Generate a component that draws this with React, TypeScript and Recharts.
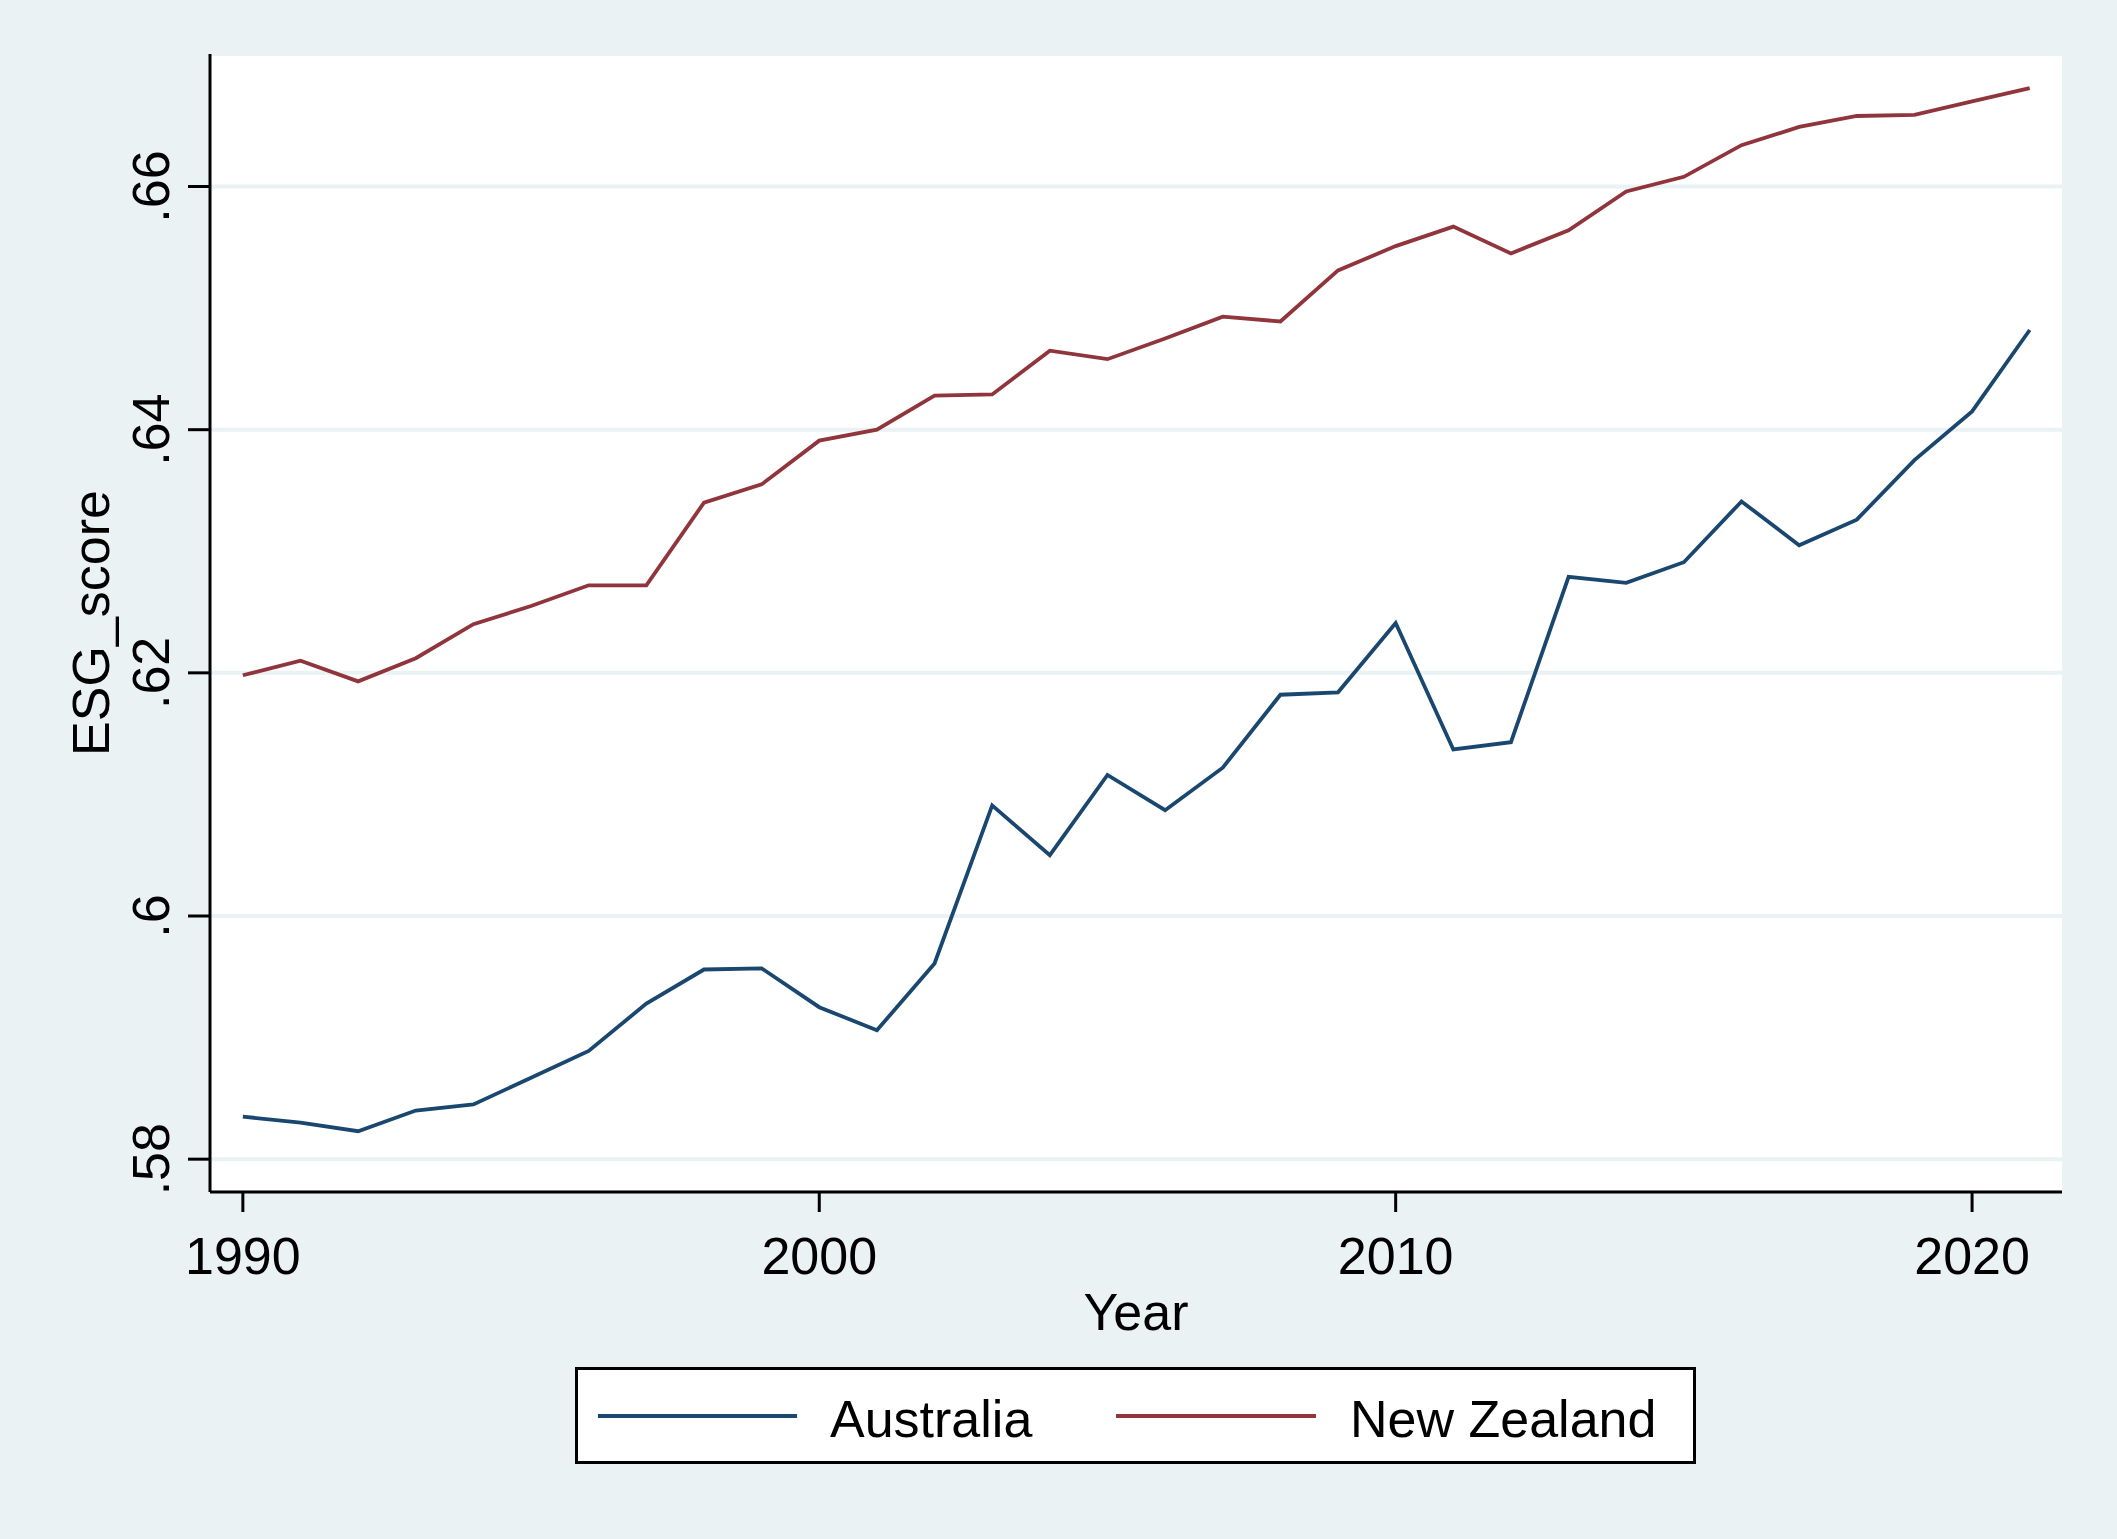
import React from 'react';
import { LineChart, Line, XAxis, YAxis, CartesianGrid, Legend } from 'recharts';

const years = [
  1990, 1991, 1992, 1993, 1994, 1995, 1996, 1997, 1998, 1999,
  2000, 2001, 2002, 2003, 2004, 2005, 2006, 2007, 2008, 2009,
  2010, 2011, 2012, 2013, 2014, 2015, 2016, 2017, 2018, 2019,
  2020, 2021,
];

const australia = [
  0.5835, 0.5830, 0.5823, 0.5840, 0.5845, 0.5867, 0.5889, 0.5928, 0.5956, 0.5957,
  0.5925, 0.5906, 0.5961, 0.6091, 0.6050, 0.6116, 0.6087, 0.6122, 0.6182, 0.6184,
  0.6241, 0.6137, 0.6143, 0.6279, 0.6274, 0.6291, 0.6341, 0.6305, 0.6326, 0.6375,
  0.6415, 0.6482,
];

const newZealand = [
  0.6198, 0.6210, 0.6193, 0.6212, 0.6240, 0.6255, 0.6272, 0.6272, 0.6340, 0.6355,
  0.6391, 0.6400, 0.6428, 0.6429, 0.6465, 0.6458, 0.6475, 0.6493, 0.6489, 0.6531,
  0.6551, 0.6567, 0.6545, 0.6564, 0.6596, 0.6608, 0.6634, 0.6649, 0.6658, 0.6659,
  0.6670, 0.6681,
];

const xTicks = [1990, 2000, 2010, 2020];
const yTicks = [0.58, 0.6, 0.62, 0.64, 0.66];
const yTickLabels = ['.58', '.6', '.62', '.64', '.66'];

const data = years.map((y, i) => ({
  year: y,
  Australia: australia[i],
  'New Zealand': newZealand[i],
}));

const FONT = '"Liberation Sans", Arial, Helvetica, sans-serif';
const BG = '#EAF2F3';
const NAVY = '#1A476F';
const MAROON = '#90353B';
const FS = 52;

const XTick = (props: any) => {
  const { x, y, payload } = props;
  return (
    <text x={x} y={y + 62} textAnchor="middle" fontFamily={FONT} fontSize={FS} fill="#000">
      {String(payload.value)}
    </text>
  );
};

const YTick = (props: any) => {
  const { y, payload } = props;
  const idx = yTicks.findIndex((t) => Math.abs(t - payload.value) < 1e-9);
  const label = idx >= 0 ? yTickLabels[idx] : String(payload.value);
  const bx = 169;
  return (
    <text
      x={bx}
      y={y}
      transform={`rotate(-90 ${bx} ${y})`}
      textAnchor="middle"
      fontFamily={FONT}
      fontSize={FS}
      fill="#000"
    >
      {label}
    </text>
  );
};

const renderLegend = (props: any) => {
  const payload = props.payload || [];
  const pos = [
    { lx1: 23, lx2: 222, tx: 255 },
    { lx1: 541, lx2: 741, tx: 775 },
  ];
  return (
    <svg width={1121} height={97} style={{ display: 'block' }}>
      <rect x={1.5} y={1.5} width={1118} height={94} fill="#FFFFFF" stroke="#000" strokeWidth={3} />
      {payload.map((p: any, i: number) => (
        <g key={p.value}>
          <line x1={pos[i].lx1} x2={pos[i].lx2} y1={49} y2={49} stroke={p.color} strokeWidth={3.8} />
          <text x={pos[i].tx} y={70} fontFamily={FONT} fontSize={FS} fill="#000">
            {p.value}
          </text>
        </g>
      ))}
    </svg>
  );
};

export default function App() {
  return (
    <div
      style={{
        position: 'absolute',
        left: 0,
        top: 0,
        width: 2117,
        height: 1539,
        background: BG,
      }}
    >
      <LineChart
        width={2117}
        height={1539}
        data={data}
        margin={{ top: 54, right: 55, left: 110, bottom: 247 }}
      >
        <CartesianGrid
          vertical={false}
          stroke={BG}
          strokeWidth={4}
          fill="#FFFFFF"
          fillOpacity={1}
        />
        <XAxis
          dataKey="year"
          type="number"
          domain={[1989.43, 2021.56]}
          allowDataOverflow
          ticks={xTicks}
          height={100}
          tickSize={20}
          tickMargin={0}
          axisLine={{ stroke: '#000', strokeWidth: 3 }}
          tickLine={{ stroke: '#000', strokeWidth: 3 }}
          tick={<XTick />}
          label={{
            content: () => (
              <text x={1136} y={1330} textAnchor="middle" fontFamily={FONT} fontSize={FS} fill="#000">
                Year
              </text>
            ),
          }}
        />
        <YAxis
          type="number"
          domain={[0.5773, 0.6709]}
          allowDataOverflow
          ticks={yTicks}
          width={100}
          tickSize={22}
          tickMargin={0}
          axisLine={{ stroke: '#000', strokeWidth: 3 }}
          tickLine={{ stroke: '#000', strokeWidth: 3 }}
          tick={<YTick />}
          label={{
            content: () => (
              <text
                x={109}
                y={623}
                transform="rotate(-90 109 623)"
                textAnchor="middle"
                fontFamily={FONT}
                fontSize={FS}
                fill="#000"
              >
                ESG_score
              </text>
            ),
          }}
        />
        <Line
          type="linear"
          dataKey="Australia"
          stroke={NAVY}
          strokeWidth={3.8}
          dot={false}
          isAnimationActive={false}
        />
        <Line
          type="linear"
          dataKey="New Zealand"
          stroke={MAROON}
          strokeWidth={3.8}
          dot={false}
          isAnimationActive={false}
        />
        <Legend
          layout="vertical"
          align="center"
          verticalAlign="middle"
          content={renderLegend}
          wrapperStyle={{
            position: 'absolute',
            left: 575,
            top: 1367,
            width: 1121,
            height: 97,
            margin: 0,
            padding: 0,
          }}
        />
      </LineChart>
    </div>
  );
}
